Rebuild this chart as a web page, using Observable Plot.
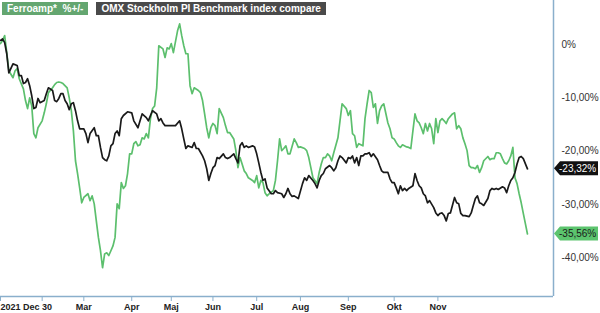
<!DOCTYPE html>
<html>
<head>
<meta charset="utf-8">
<script src="https://cdn.jsdelivr.net/npm/d3@7"></script>
<script src="https://cdn.jsdelivr.net/npm/@observablehq/plot@0.6"></script>
<style>
  body { margin: 0; background: #fff; font-family: "Liberation Sans", Arial, sans-serif; }
  #wrap { position: relative; width: 600px; height: 313px; }
  #legend { position: absolute; top: 2px; left: 2px; display: flex; gap: 8px; z-index: 2; }
  .leg { height: 13px; line-height: 13px; font-size: 10px; font-weight: bold; color: #fff; padding: 0 5px; white-space: pre; }
  svg g[aria-label="x-axis tick"] path { stroke: #8aafcc; }
</style>
</head>
<body>
<div id="wrap"><div id="legend"></div></div>
<script>
// Series names (legend)
const seriesNames = ["Ferroamp*  %+/-", "OMX Stockholm PI Benchmark index compare"];

// x = trading day since 2021-12-30, y = % change
const ferroamp = [[0,0.2],[1,0.8],[2,1.7],[3,-1.5],[4,-4.9],[6,-6.2],[7,-4.9],[8,-4.5],[9,-6.4],[11,-8.3],[12,-10.5],[13,-12.0],[14,-10.0],[15,-11.5],[16,-16.7],[17,-17.5],[18,-15.6],[20,-14.3],[21,-12.8],[22,-11.1],[23,-9.0],[25,-8.1],[26,-7.5],[27,-7.1],[28,-7.0],[29,-7.1],[30,-7.3],[32,-8.1],[33,-10.0],[34,-12.4],[35,-16.2],[36,-21.8],[37,-24.2],[38,-26.9],[39,-29.7],[40,-28.7],[42,-28.0],[43,-29.3],[44,-28.4],[45,-29.9],[46,-33.1],[47,-36.2],[48,-38.7],[49,-41.9],[50,-39.3],[51,-39.1],[52,-39.6],[53,-38.7],[54,-37.8],[55,-36.2],[56,-29.9],[57,-30.8],[58,-25.9],[59,-27.0],[60,-26.5],[61,-24.2],[62,-20.5],[63,-20.5],[64,-18.6],[65,-18.2],[66,-19.0],[67,-18.8],[68,-17.5],[69,-17.7],[70,-16.7],[71,-17.5],[72,-13.9],[73,-12.0],[74,-11.5],[75,-8.1],[76,-0.2],[78,-0.8],[79,-2.4],[80,-0.6],[81,-0.8],[82,0.2],[83,-1.5],[85,2.6],[86,3.9],[87,1.7],[88,-0.2],[89,-1.7],[90,-1.7],[91,-7.7],[92,-9.2],[93,-8.1],[95,-8.6],[96,-9.0],[97,-10.5],[98,-13.0],[99,-15.6],[100,-17.5],[101,-15.6],[102,-14.8],[103,-15.2],[104,-16.7],[105,-12.0],[107,-13.7],[108,-15.2],[109,-16.5],[110,-16.5],[112,-17.7],[113,-19.9],[114,-23.1],[115,-21.2],[116,-22.4],[117,-23.7],[118,-24.2],[119,-25.0],[121,-25.5],[122,-25.9],[123,-24.6],[124,-26.9],[125,-25.5],[126,-25.9],[127,-27.8],[128,-28.4],[129,-28.0],[131,-27.4],[132,-25.5],[133,-21.8],[134,-17.7],[135,-19.9],[136,-19.5],[137,-19.0],[138,-20.5],[139,-20.5],[141,-17.7],[142,-18.4],[143,-19.3],[144,-19.2],[146,-19.5],[147,-19.9],[148,-21.2],[149,-23.1],[150,-25.0],[152,-26.1],[153,-24.0],[154,-22.4],[155,-21.2],[156,-21.2],[157,-20.5],[158,-20.9],[159,-21.8],[160,-20.3],[162,-17.5],[163,-14.3],[164,-11.1],[166,-12.0],[167,-13.3],[168,-12.4],[169,-16.7],[170,-17.1],[171,-19.3],[172,-18.6],[174,-19.0],[175,-13.9],[176,-11.1],[177,-8.6],[178,-9.0],[179,-11.8],[180,-11.1],[181,-14.8],[182,-12.4],[183,-11.5],[184,-11.1],[186,-14.7],[187,-15.8],[188,-17.5],[189,-17.7],[190,-18.4],[191,-19.0],[192,-19.3],[193,-18.8],[195,-19.2],[196,-19.3],[197,-19.5],[198,-16.2],[199,-13.0],[200,-14.3],[201,-14.7],[202,-15.6],[203,-16.7],[204,-14.8],[205,-16.2],[206,-14.8],[207,-15.8],[208,-18.6],[209,-13.9],[210,-16.5],[211,-14.3],[212,-13.9],[213,-14.3],[214,-14.8],[215,-13.9],[217,-13.0],[218,-12.8],[219,-15.8],[220,-15.2],[221,-15.8],[222,-17.5],[223,-18.6],[224,-19.9],[225,-22.7],[226,-23.1],[227,-23.1],[228,-23.3],[229,-22.7],[230,-24.0],[231,-23.1],[232,-21.8],[234,-21.0],[235,-21.6],[236,-21.4],[237,-21.4],[238,-20.3],[239,-20.3],[240,-20.5],[241,-21.4],[242,-22.2],[243,-22.4],[244,-21.8],[245,-20.9],[246,-19.3],[247,-25.0],[248,-26.1],[249,-28.0],[250,-29.7],[251,-31.7],[252,-33.6],[253,-35.56]];

const omx = [[0,0.8],[1,1.1],[2,0.4],[3,-1.7],[4,-5.3],[6,-3.6],[8,-3.9],[9,-5.8],[10,-5.8],[11,-7.3],[12,-7.1],[13,-6.4],[14,-7.7],[15,-9.6],[16,-12.0],[17,-11.8],[18,-10.1],[19,-10.9],[21,-10.5],[22,-9.2],[23,-8.1],[25,-8.6],[26,-10.5],[27,-10.7],[28,-10.1],[29,-9.2],[30,-9.2],[31,-10.5],[32,-11.1],[33,-12.2],[34,-11.1],[35,-10.9],[36,-12.4],[37,-14.3],[38,-15.8],[40,-15.8],[41,-16.7],[42,-18.4],[43,-16.7],[45,-15.6],[46,-17.1],[47,-17.1],[48,-19.3],[49,-21.2],[50,-21.6],[51,-21.8],[52,-20.9],[53,-19.0],[54,-18.6],[55,-16.7],[56,-16.2],[57,-17.1],[58,-13.9],[59,-13.3],[61,-12.6],[63,-12.8],[64,-14.3],[66,-15.6],[67,-14.3],[68,-13.0],[70,-13.7],[71,-14.3],[72,-13.3],[73,-12.4],[75,-13.0],[76,-14.3],[77,-13.9],[78,-14.7],[79,-15.2],[82,-15.2],[84,-15.2],[86,-14.3],[87,-15.8],[88,-17.7],[89,-19.5],[90,-19.0],[92,-19.3],[93,-18.4],[94,-19.5],[95,-19.5],[97,-20.9],[98,-21.8],[99,-23.3],[100,-25.5],[101,-24.2],[102,-23.1],[103,-22.7],[104,-21.2],[105,-21.4],[107,-20.5],[108,-21.2],[109,-21.4],[110,-21.2],[112,-20.5],[113,-21.4],[114,-22.2],[115,-19.0],[116,-18.4],[117,-19.3],[118,-19.0],[119,-19.3],[121,-19.0],[122,-19.2],[123,-20.5],[124,-22.2],[125,-24.0],[126,-25.5],[127,-25.2],[128,-26.9],[130,-28.0],[131,-28.0],[132,-27.4],[133,-27.8],[135,-28.0],[136,-28.7],[137,-28.0],[138,-27.0],[139,-28.0],[140,-28.5],[141,-28.4],[143,-28.9],[145,-26.1],[146,-25.0],[147,-25.5],[148,-24.6],[150,-25.5],[151,-26.1],[152,-26.9],[153,-25.5],[154,-24.6],[155,-24.2],[156,-23.3],[158,-22.7],[159,-23.1],[160,-23.7],[161,-23.1],[162,-21.8],[163,-20.9],[164,-21.2],[166,-22.2],[167,-21.2],[168,-21.4],[169,-20.9],[170,-22.2],[171,-21.2],[172,-22.7],[173,-20.9],[174,-20.9],[175,-20.5],[176,-20.5],[177,-20.3],[178,-21.0],[179,-20.5],[181,-21.6],[182,-22.7],[183,-23.7],[184,-24.0],[186,-24.0],[187,-25.2],[188,-25.9],[189,-25.9],[190,-26.9],[191,-28.0],[192,-26.5],[193,-27.4],[194,-27.0],[195,-27.4],[196,-27.0],[198,-26.5],[199,-24.2],[200,-25.5],[201,-26.5],[202,-26.9],[203,-28.0],[204,-28.4],[205,-29.7],[206,-29.3],[208,-30.6],[209,-31.6],[210,-32.1],[211,-31.7],[212,-31.6],[213,-32.1],[214,-33.1],[215,-31.7],[216,-31.6],[218,-28.7],[219,-29.7],[220,-29.9],[221,-31.7],[222,-32.1],[223,-32.1],[225,-32.3],[226,-31.6],[227,-30.2],[228,-28.9],[229,-28.4],[230,-29.7],[231,-29.9],[232,-30.2],[234,-28.9],[235,-27.4],[236,-27.0],[237,-27.2],[238,-27.0],[239,-27.2],[241,-26.7],[242,-26.9],[243,-27.8],[244,-26.5],[245,-25.5],[246,-25.0],[247,-24.0],[248,-22.4],[249,-21.2],[250,-21.0],[251,-21.4],[253,-23.32]];

// Month ticks (trading day index) and their labels
const tickDays = [0, 20, 40, 63, 82, 102, 123, 144, 167, 189, 210];
const tickLabels = ["2021 Dec 30", "", "Mar", "Apr", "Maj", "Jun", "Jul", "Aug", "Sep", "Okt", "Nov"];
const yTicks = [0, -10, -20, -30, -40];

const colors = {ferro: "#5cbf6d", omx: "#1a1a1a", legFerro: "#64a670", legOmx: "#4a4a4a", axis: "#8aafcc"};

const fmtPct = v => v === 0 ? "0%" : v.toFixed(2).replace(".", ",") + "%";

// Legend
const legend = document.getElementById("legend");
[[seriesNames[0], colors.legFerro], [seriesNames[1], colors.legOmx]].forEach(([t, c]) => {
  const d = document.createElement("div");
  d.className = "leg"; d.textContent = t; d.style.background = c;
  legend.appendChild(d);
});

const lastPoints = [
  {value: omx[omx.length - 1][1], fill: "#111", text: "#fff"},
  {value: ferroamp[ferroamp.length - 1][1], fill: "#5cc46e", text: "#1a1a1a"}
];

const xMax = 265.5, yMin = -47.3, yMax = 8.3;

const badges = (index, scales, values, dims) => {
  const g = d3.create("svg:g").attr("text-anchor", "start");
  const x0 = dims.width - dims.marginRight;
  for (const b of lastPoints) {
    const cy = scales.y(b.value);
    g.append("path")
      .attr("d", `M${x0 + 1},${cy}L${x0 + 7},${cy - 7}H${dims.width - 2}V${cy + 7}H${x0 + 7}Z`)
      .attr("fill", b.fill);
    g.append("text")
      .attr("x", x0 + 6).attr("y", cy).attr("dy", "0.35em")
      .attr("text-anchor", "start")
      .attr("fill", b.text).attr("font-size", 10)
      .attr("font-family", "Liberation Sans, Arial, sans-serif")
      .text(fmtPct(b.value));
  }
  return g.node();
};

const chart = Plot.plot({
  width: 600,
  height: 313,
  marginLeft: 0,
  marginRight: 47,
  marginTop: 0,
  marginBottom: 17,
  style: {fontFamily: "Liberation Sans, Arial, sans-serif", background: "#fff", overflow: "visible"},
  x: {domain: [0, xMax], label: null},
  y: {domain: [yMin, yMax], label: null},
  marks: [
    Plot.ruleY([yMin], {stroke: colors.axis, strokeWidth: 1.5}),
    Plot.ruleX([xMax], {stroke: colors.axis, strokeWidth: 1.5}),
    Plot.axisX([tickDays[0]], {tickSize: 5, tickPadding: 2, textAnchor: "start", fontSize: 9, fontWeight: "bold", fill: "#222", tickFormat: () => tickLabels[0], label: null}),
    Plot.axisX(tickDays.slice(1), {tickSize: 5, tickPadding: 2, fontSize: 9, fontWeight: "bold", fill: "#222", tickFormat: (d) => tickLabels[tickDays.indexOf(d)], label: null}),
    Plot.axisY(yTicks, {anchor: "right", tickSize: 0, tickPadding: 8, fontSize: 10, fill: "#333", tickFormat: fmtPct, label: null}),
    Plot.line(ferroamp, {x: d => d[0], y: d => d[1], stroke: colors.ferro, strokeWidth: 1.7}),
    Plot.line(omx, {x: d => d[0], y: d => d[1], stroke: colors.omx, strokeWidth: 1.7}),
    badges
  ]
});
document.getElementById("wrap").appendChild(chart);
</script>
</body>
</html>
